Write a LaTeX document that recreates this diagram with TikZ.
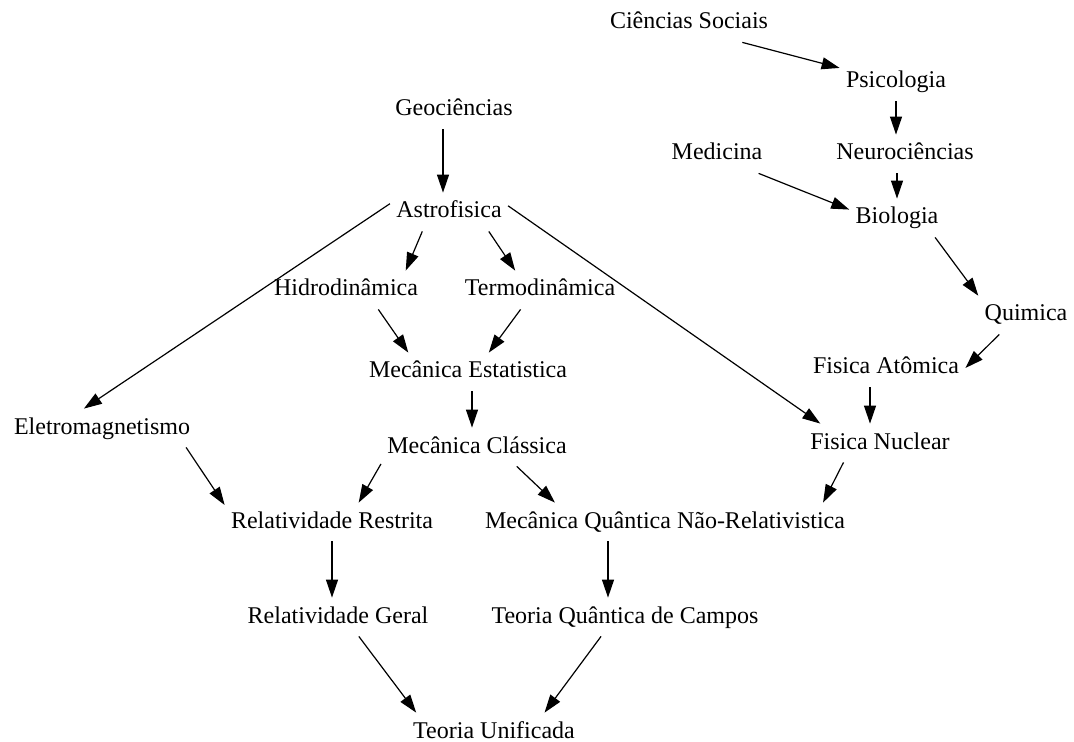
\documentclass[tikz,border=0pt]{standalone}
\usepackage{fontspec}
\setmainfont{Liberation Serif}
\usepackage{tikz}
\usetikzlibrary{arrows.meta}

\tikzset{
  topic/.style={inner xsep=3pt, inner ysep=4pt, text height=8.5pt, text depth=2.5pt,
                font=\fontsize{12}{14}\selectfont},
  link/.style={line width=0.6pt, -{Triangle[length=9pt,width=6pt]}}
}

\begin{document}
\begin{tikzpicture}[x=0.5pt, y=-0.5pt]
\useasboundingbox (0,0) rectangle (1074,742);

% fields, placed at their positions in the map
\node[topic] (cs)     at (689,23)  {Ciências Sociais};
\node[topic] (psi)    at (896,82)  {Psicologia};
\node[topic] (geo)    at (454,110) {Geociências};
\node[topic] (med)    at (717,154) {Medicina};
\node[topic] (neu)    at (905,154) {Neurociências};
\node[topic] (astro)  at (449,212) {Astrofisica};
\node[topic] (bio)    at (897,218) {Biologia};
\node[topic] (hidro)  at (346,290) {Hidrodinâmica};
\node[topic] (termo)  at (540,290) {Termodinâmica};
\node[topic] (quim)   at (1026,315) {Quimica};
\node[topic] (mest)   at (468,372) {Mecânica Estatistica};
\node[topic] (fat)    at (886,368) {Fisica Atômica};
\node[topic] (eletro) at (102,428) {Eletromagnetismo};
\node[topic] (mcl)    at (477,447) {Mecânica Clássica};
\node[topic] (fnuc)   at (880,443) {Fisica Nuclear};
\node[topic] (rr)     at (332,522) {Relatividade Restrita};
\node[topic] (mqnr)   at (665,522) {Mecânica Quântica Não-Relativistica};
\node[topic] (rg)     at (338,617) {Relatividade Geral};
\node[topic] (tqc)    at (625,617) {Teoria Quântica de Campos};
\node[topic] (tu)     at (494,732) {Teoria Unificada};

% right branch
\draw[link] (cs.-20.4) -- (psi.166.2);
\draw[link] (psi.south) -- (psi.south |- neu.north);
\draw[link] (bio.north |- neu.south) -- (bio.north);
\draw[link] (med.-25.4) -- (bio.170.7);
\draw[link] (bio.-27.8) -- (quim.158.4);
\draw[link] (quim.-144.9) -- (fat.east);
\draw[link] ([xshift=-8pt]fat.south) -- ([xshift=-5pt]fnuc.north);
\draw[link] (fnuc.-152.8) -- (mqnr.7.4);

% left branch
\draw[link] ([xshift=-5.5pt]geo.south) -- ([xshift=-3pt]astro.north);
\draw[link] (astro.172.4) -- (eletro.133.5);
\draw[link] (astro.-144.9) -- (hidro.18.7);
\draw[link] (astro.-26) -- (termo.142.8);
\draw[link] (astro.6.7) -- (fnuc.162.4);
\draw[link] (hidro.-31.5) -- (mest.162.4);
\draw[link] (termo.-135) -- (mest.43.5);
\draw[link] ([xshift=2pt]mest.south) -- ([xshift=-2.5pt]mcl.north);
\draw[link] (mcl.-170.2) -- (rr.36.2);
\draw[link] (mcl.-26) -- (mqnr.170.8);
\draw[link] (eletro.-13.2) -- (rr.171.2);
\draw[link] (rr.south) -- ([xshift=-3pt]rg.north);
\draw[link] ([xshift=-28.5pt]mqnr.south) -- ([xshift=-8.5pt]tqc.north);
\draw[link] (rg.-43.5) -- (tu.166.6);
\draw[link] (tqc.-141.6) -- (tu.21.2);
\end{tikzpicture}
\end{document}
